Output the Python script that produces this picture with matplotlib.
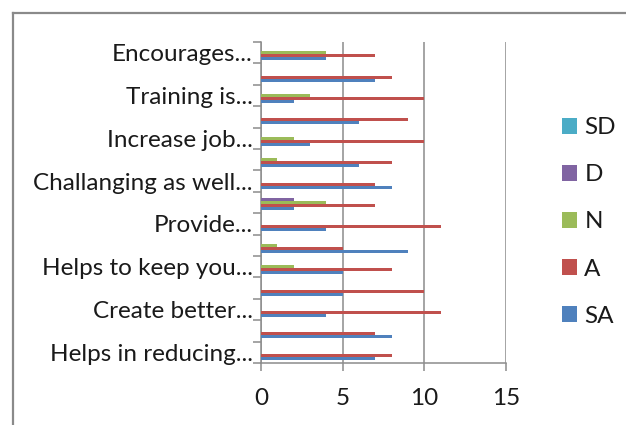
import matplotlib
matplotlib.use("Agg")
import matplotlib.pyplot as plt
from matplotlib.patches import Patch
from matplotlib.lines import Line2D
import numpy as np

plt.rcParams['font.family'] = ['Lato', 'DejaVu Sans']

# categories, bottom to top (Excel hides every other label)
categories = ["Helps in reducing...", "", "Create better...", "", "Helps to keep you...", "",
              "Provide...", "", "Challanging as well...", "", "Increase job...", "",
              "Training is...", "", "Encourages..."]
series_names = ["SA", "A", "N", "D", "SD"]
SA = [7, 8, 4, 5, 5, 9, 4, 2, 8, 6, 3, 6, 2, 7, 4]
A  = [8, 7, 11, 10, 8, 5, 11, 7, 7, 8, 10, 9, 10, 8, 7]
N  = [0, 0, 0, 0, 2, 1, 0, 4, 0, 1, 2, 0, 3, 0, 4]
D  = [0, 0, 0, 0, 0, 0, 0, 2, 0, 0, 0, 0, 0, 0, 0]
SD = [0, 0, 0, 0, 0, 0, 0, 0, 0, 0, 0, 0, 0, 0, 0]
colors = ["#4F81BD", "#C0504D", "#9BBB59", "#8064A2", "#4BACC6"]
xticks = [0, 5, 10, 15]

FS = 17.5
TXT = "#1a1a1a"

fig = plt.figure(figsize=(6.26, 4.25), dpi=100)
W, H = 626, 425
ax = fig.add_axes([261 / W, 1 - 363 / H, (506 - 261) / W, (363 - 42) / H])

n = len(categories)
y = np.arange(n)
h = 0.14
data = [SA, A, N, D, SD]
for i, (vals, c, name) in enumerate(zip(data, colors, series_names)):
    ax.barh(y + (i - 2) * h, vals, height=h, color=c, label=name, zorder=3)

ax.set_xlim(0, 15)
ax.set_ylim(-0.5, n - 0.5)
ax.set_xticks(xticks)
ax.set_xticklabels([str(t) for t in xticks], fontsize=FS, color=TXT)
ax.grid(axis="x", color="#8c8c8c", lw=1.1, zorder=0)

ax.set_yticks(np.arange(n + 1) - 0.5)
ax.set_yticklabels([])
ax.set_yticks(y, minor=True)
ax.set_yticklabels(categories, minor=True, fontsize=FS, color=TXT)
ax.tick_params(axis="y", which="major", length=6, width=1.1, color="#8c8c8c", direction="out")
ax.tick_params(axis="y", which="minor", length=0, pad=6)
ax.tick_params(axis="x", length=6, width=1.1, color="#8c8c8c", pad=12)

for s in ["top", "right"]:
    ax.spines[s].set_visible(False)
for s in ["left", "bottom"]:
    ax.spines[s].set_color("#8c8c8c")
    ax.spines[s].set_linewidth(1.1)

# legend (reversed order, as in reference)
handles = [Patch(facecolor=colors[i], edgecolor="none") for i in range(4, -1, -1)]
labels = [series_names[i] for i in range(4, -1, -1)]
fig.legend(handles, labels, loc="center left", bbox_to_anchor=(562 / W, 1 - 222 / H),
           frameon=False, fontsize=FS, handlelength=0.62, handleheight=0.62,
           handletextpad=0.3, labelspacing=1.07, borderpad=0, borderaxespad=0,
           labelcolor=TXT)

# outer chart-area border (cropped in the reference)
fig.add_artist(Line2D([13 / W, 1], [1 - 13 / H, 1 - 13 / H], color="#8a8a8a", lw=1.6,
                      transform=fig.transFigure))
fig.add_artist(Line2D([13 / W, 13 / W], [0, 1 - 13 / H], color="#8a8a8a", lw=1.6,
                      transform=fig.transFigure))

fig.savefig("out.png", dpi=100)
